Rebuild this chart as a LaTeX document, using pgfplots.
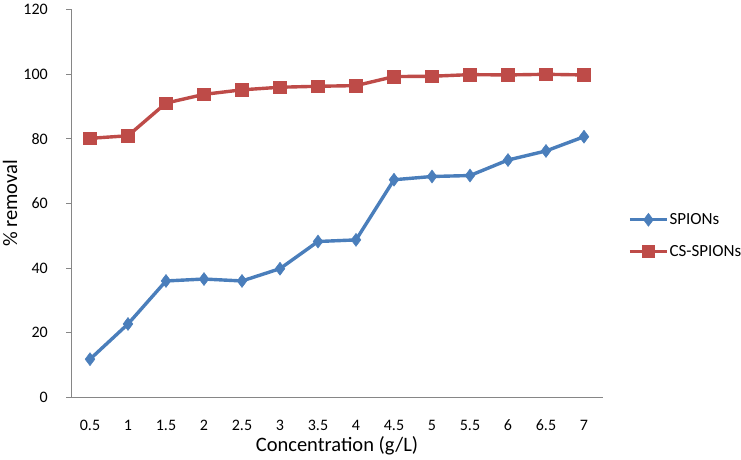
\documentclass[border=0pt]{standalone}
\usepackage{pgfplots}
\pgfplotsset{compat=1.18}
\usepackage{fontspec}
\setmainfont{Carlito}
\definecolor{sblue}{HTML}{4A7EBB}
\definecolor{sred}{HTML}{BE4B48}
\definecolor{axgray}{HTML}{868686}
\newcommand{\legfont}{\fontsize{17}{19}\selectfont}
\begin{document}
\begin{tikzpicture}
\useasboundingbox (0,0) rectangle (741pt,460pt);
\begin{axis}[
  at={(71pt,62.6pt)}, anchor=south west,
  scale only axis, width=532pt, height=388.1pt,
  xmin=-0.5, xmax=13.5, ymin=0, ymax=120,
  ytick={0,20,...,120},
  xtick={0,...,13},
  xticklabels={0.5,1,1.5,2,2.5,3,3.5,4,4.5,5,5.5,6,6.5,7},
  axis lines*=left,
  axis line style={axgray, line width=0.9pt},
  major tick length=5pt,
  xtick style={draw=none},
  ytick style={axgray, line width=0.9pt},
  tick align=outside,
  /pgf/number format/assume math mode=true,
  ticklabel style={font=\fontsize{16}{18}\selectfont, black},
  yticklabel style={anchor=east, xshift=-18pt, inner sep=0pt},
  xticklabel style={anchor=center, yshift=-23pt, inner sep=0pt},
  xlabel={Concentration (g/L)},
  ylabel={\% removal},
  every axis x label/.style={at={(rel axis cs:0.5,0)}, yshift=-48pt, anchor=center, font=\fontsize{20.5}{24}\selectfont},
  every axis y label/.style={at={(rel axis cs:0,0.5)}, xshift=-61pt, rotate=90, anchor=center, font=\fontsize{20.5}{24}\selectfont},
  legend style={at={(1.0470,0.4170)}, anchor=west, draw=none, fill=none,
    row sep=17pt, inner sep=0pt,
    nodes={inner sep=1pt}},
  legend cell align=left,
  legend image code/.code={
    \draw[#1] (0pt,0pt) -- (37pt,0pt);
    \draw[#1, only marks] plot coordinates {(18.5pt,0pt)};
  },
  clip=false,
]
\addplot[sblue, line width=3.4pt, mark=diamond*, mark size=6.5pt, mark options={solid, line width=0.5pt}]
coordinates {
(0,11.8) (1,22.7) (2,36.0) (3,36.6) (4,36.0) (5,39.8) (6,48.2) (7,48.7)
(8,67.3) (9,68.3) (10,68.6) (11,73.4) (12,76.2) (13,80.6)
};
\addlegendentry{\legfont SPIONs}
\addplot[sred, line width=3.4pt, mark=square*, mark size=6.3pt, mark options={solid, line width=0.5pt}]
coordinates {
(0,80.1) (1,80.9) (2,91.0) (3,93.7) (4,95.1) (5,95.9) (6,96.2) (7,96.4)
(8,99.2) (9,99.3) (10,99.8) (11,99.7) (12,99.9) (13,99.7)
};
\addlegendentry{\legfont CS-SPIONs}
\end{axis}
\end{tikzpicture}
\end{document}
